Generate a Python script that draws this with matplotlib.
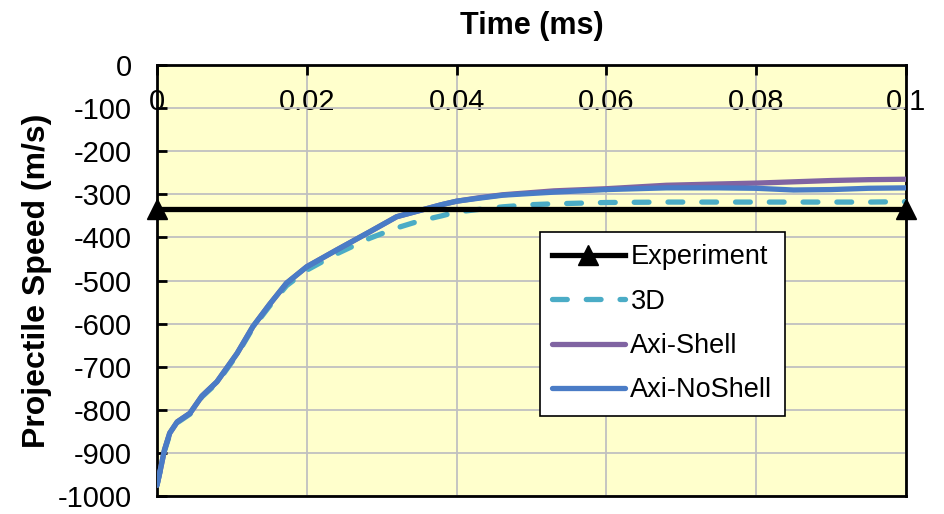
import numpy as np
import matplotlib.pyplot as plt

plt.rcParams['font.family'] = ['Liberation Sans', 'DejaVu Sans']
plt.rcParams['axes.unicode_minus'] = False

# time (ms) and projectile speed (m/s) for each model
t = [0, 0.0005, 0.001, 0.0017, 0.0027, 0.0044, 0.006, 0.008, 0.0107, 0.0128,
     0.015, 0.0173, 0.020, 0.024, 0.0284, 0.032, 0.035, 0.038, 0.040, 0.043,
     0.0462, 0.050, 0.053, 0.060, 0.068, 0.075, 0.080, 0.085, 0.090, 0.095, 0.100]

axi_noshell = [-975, -935, -893, -854, -828, -808, -768, -735, -669, -607,
               -556, -506, -468, -429, -387, -352, -338, -324, -316, -309,
               -302, -298, -295, -289, -285, -285, -286, -290, -289, -286, -285]

axi_shell = [-975, -935, -893, -854, -828, -808, -768, -735, -669, -607,
             -556, -506, -468, -429, -387, -352, -338, -324, -316, -308,
             -301, -296, -292, -287, -279, -276, -274, -271, -268, -266, -265]

three_d = [-975, -937, -896, -857, -830, -810, -770, -738, -672, -610,
           -560, -512, -476, -438, -402, -378, -362, -350, -341, -335,
           -329, -324, -322, -319, -318, -318, -318, -318, -318, -318, -317]

exp_t = [0, 0.1]
exp_v = [-335, -335]

xticks = [0, 0.02, 0.04, 0.06, 0.08, 0.1]
xticklabels = ['0', '0.02', '0.04', '0.06', '0.08', '0.1']
yticks = list(range(0, -1001, -100))

fig = plt.figure(figsize=(9.44, 5.14), dpi=100)
ax = fig.add_axes([0.1663, 0.035, 0.7934, 0.8385])
ax.set_facecolor('#FFFFCC')

ax.plot(exp_t, exp_v, color='black', lw=3.8, marker='^', ms=15,
        clip_on=False, zorder=5, label='Experiment')
ax.plot(t, three_d, color='#4BACC6', lw=3.8, dashes=(2.8, 3.6),
        dash_capstyle='round', zorder=3, label='3D')
ax.plot(t, axi_shell, color='#8064A2', lw=3.8, zorder=3, label='Axi-Shell',
        solid_capstyle='round')
ax.plot(t, axi_noshell, color='#4A7CC6', lw=3.8, zorder=4,
        label='Axi-NoShell', solid_capstyle='round')

ax.set_xlim(0, 0.1)
ax.set_ylim(-1000, 0)
ax.set_xticks(xticks)
ax.set_xticklabels(xticklabels)
ax.set_yticks(yticks)
ax.grid(True, color='#C0C0C0', lw=1.3)
ax.set_axisbelow(True)

for s in ax.spines.values():
    s.set_linewidth(2)
    s.set_color('black')

ax.tick_params(axis='x', top=True, bottom=False, labeltop=True,
               labelbottom=False, direction='in', length=7, width=2,
               pad=-37, labelsize=21)
ax.tick_params(axis='y', direction='in', length=7, width=2, labelsize=21,
               pad=18)

ax.set_title('Time (ms)', fontsize=22, fontweight='bold', pad=22)
ax.set_ylabel('Projectile Speed (m/s)', fontsize=23, fontweight='bold',
              labelpad=4)

leg = ax.legend(loc='upper left', bbox_to_anchor=(0.511, 0.6125),
                fontsize=19.5, frameon=True, fancybox=False, framealpha=1,
                edgecolor='black', handlelength=2.7, labelspacing=0.68,
                handletextpad=0.2, borderpad=0.45, borderaxespad=0)
leg.get_frame().set_linewidth(1.2)

fig.savefig('out.png', dpi=100)
